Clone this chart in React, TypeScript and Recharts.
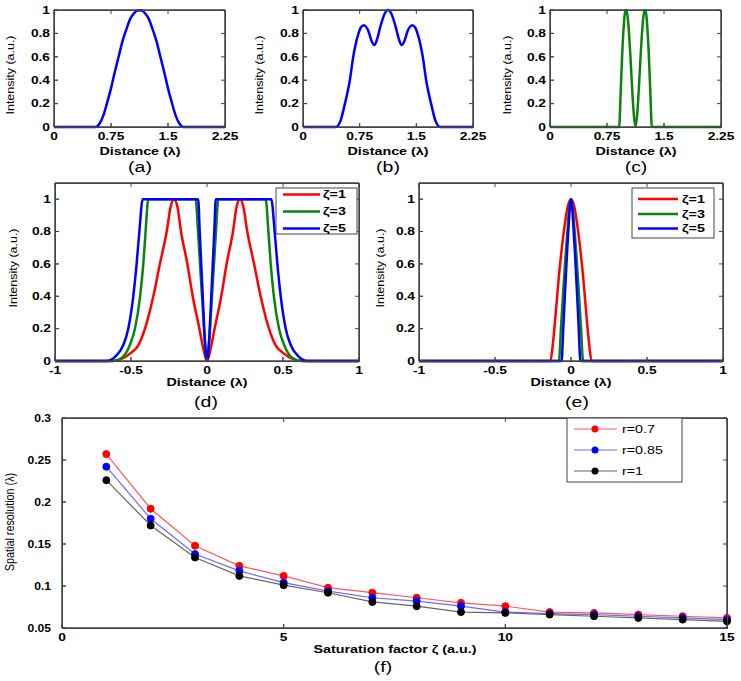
import React from 'react';
import { LineChart, Line, XAxis, YAxis, ReferenceArea } from 'recharts';

const FONT = '"Liberation Sans", Arial, Helvetica, sans-serif';
const AXIS = '#444';

// (a) intensity profile, single peak
const distA = [0, 0.55, 0.6, 0.65, 0.7, 0.75, 0.8, 0.85, 0.9, 0.95, 1.0, 1.05, 1.1, 1.15, 1.2, 1.25, 1.3, 1.35, 1.4, 1.45, 1.5, 1.55, 1.6, 1.65, 1.7, 2.25];
const intenA = [0, 0, 0.03, 0.1, 0.21, 0.33, 0.47, 0.6, 0.73, 0.83, 0.92, 0.97, 0.995, 0.995, 0.97, 0.92, 0.83, 0.73, 0.6, 0.47, 0.33, 0.21, 0.1, 0.03, 0, 0];

// (b) three-lobed profile
const distB = [0, 0.435, 0.495, 0.555, 0.62, 0.665, 0.735, 0.765, 0.805, 0.865, 0.905, 0.945, 0.985, 1.025, 1.075, 1.125, 1.175, 1.225, 1.265, 1.305, 1.345, 1.385, 1.445, 1.485, 1.515, 1.585, 1.63, 1.695, 1.755, 1.815, 2.25];
const intenB = [0, 0, 0.05, 0.2, 0.4, 0.6, 0.8, 0.85, 0.87, 0.82, 0.74, 0.7, 0.76, 0.86, 0.96, 1.0, 0.96, 0.86, 0.76, 0.7, 0.74, 0.82, 0.87, 0.85, 0.8, 0.6, 0.4, 0.2, 0.05, 0, 0];

// (c) two narrow peaks
const distC = [0, 0.91, 0.93, 0.95, 0.97, 0.99, 1.0, 1.02, 1.04, 1.06, 1.08, 1.1, 1.125, 1.15, 1.17, 1.19, 1.21, 1.23, 1.25, 1.26, 1.28, 1.3, 1.32, 1.34, 2.25];
const intenC = [0, 0, 0.3, 0.62, 0.86, 0.99, 1.0, 0.95, 0.8, 0.58, 0.34, 0.13, 0, 0.13, 0.34, 0.58, 0.8, 0.95, 1.0, 0.99, 0.86, 0.62, 0.3, 0, 0];

// (d) doughnut profiles for zeta = 1, 3, 5
const distD1 = [-1, -0.62, -0.57, -0.5, -0.45, -0.408, -0.353, -0.31, -0.265, -0.24, -0.217, -0.194, -0.171, -0.129, -0.094, -0.05, -0.025, 0, 0.025, 0.05, 0.094, 0.129, 0.171, 0.194, 0.217, 0.24, 0.265, 0.31, 0.353, 0.408, 0.45, 0.5, 0.57, 0.62, 1];
const intenD1 = [0, 0, 0.01, 0.05, 0.1, 0.2, 0.4, 0.6, 0.8, 0.95, 1.0, 0.95, 0.8, 0.6, 0.4, 0.2, 0.08, 0, 0.08, 0.2, 0.4, 0.6, 0.8, 0.95, 1.0, 0.95, 0.8, 0.6, 0.4, 0.2, 0.1, 0.05, 0.01, 0, 0];
const distD3 = [-1, -0.62, -0.56, -0.507, -0.474, -0.44, -0.419, -0.404, -0.386, -0.075, -0.059, -0.046, -0.033, -0.02, -0.008, 0, 0.008, 0.02, 0.033, 0.046, 0.059, 0.075, 0.386, 0.404, 0.419, 0.44, 0.474, 0.507, 0.56, 0.62, 1];
const intenD3 = [0, 0, 0.02, 0.1, 0.2, 0.4, 0.6, 0.8, 1.0, 1.0, 0.8, 0.6, 0.4, 0.2, 0.05, 0, 0.05, 0.2, 0.4, 0.6, 0.8, 1.0, 1.0, 0.8, 0.6, 0.4, 0.2, 0.1, 0.02, 0, 0];
const distD5 = [-1, -0.66, -0.6, -0.55, -0.518, -0.485, -0.463, -0.445, -0.423, -0.058, -0.048, -0.038, -0.028, -0.018, -0.008, 0, 0.008, 0.018, 0.028, 0.038, 0.048, 0.058, 0.423, 0.445, 0.463, 0.485, 0.518, 0.55, 0.6, 0.66, 1];
const intenD5 = [0, 0, 0.03, 0.1, 0.2, 0.4, 0.6, 0.8, 1.0, 1.0, 0.8, 0.6, 0.4, 0.2, 0.05, 0, 0.05, 0.2, 0.4, 0.6, 0.8, 1.0, 1.0, 0.8, 0.6, 0.4, 0.2, 0.1, 0.03, 0, 0];

// (e) central peaks for zeta = 1, 3, 5
const distE1 = [-1, -0.135, -0.12, -0.1, -0.08, -0.06, -0.04, -0.02, 0, 0.02, 0.04, 0.06, 0.08, 0.1, 0.12, 0.135, 1];
const intenE1 = [0, 0, 0.1, 0.3, 0.52, 0.7, 0.85, 0.96, 1, 0.96, 0.85, 0.7, 0.52, 0.3, 0.1, 0, 0];
const distE3 = [-1, -0.08, -0.065, -0.05, -0.035, -0.02, -0.01, 0, 0.01, 0.02, 0.035, 0.05, 0.065, 0.08, 1];
const intenE3 = [0, 0, 0.22, 0.45, 0.66, 0.85, 0.96, 1, 0.96, 0.85, 0.66, 0.45, 0.22, 0, 0];
const distE5 = [-1, -0.062, -0.05, -0.038, -0.026, -0.014, -0.006, 0, 0.006, 0.014, 0.026, 0.038, 0.05, 0.062, 1];
const intenE5 = [0, 0, 0.22, 0.45, 0.67, 0.86, 0.97, 1, 0.97, 0.86, 0.67, 0.45, 0.22, 0, 0];

// (f) spatial resolution vs saturation factor
const zeta = [1, 2, 3, 4, 5, 6, 7, 8, 9, 10, 11, 12, 13, 14, 15];
const res07 = [0.257, 0.192, 0.148, 0.124, 0.112, 0.098, 0.092, 0.086, 0.08, 0.076, 0.069, 0.068, 0.066, 0.064, 0.062];
const res085 = [0.242, 0.18, 0.138, 0.118, 0.104, 0.094, 0.086, 0.082, 0.076, 0.069, 0.067, 0.066, 0.064, 0.062, 0.06];
const res1 = [0.226, 0.172, 0.134, 0.112, 0.101, 0.092, 0.081, 0.076, 0.069, 0.068, 0.066, 0.064, 0.062, 0.06, 0.058];

const distTicks = [0, 0.75, 1.5, 2.25];
const symTicks = [-1, -0.5, 0, 0.5, 1];
const intenTicks = [0, 0.2, 0.4, 0.6, 0.8, 1];
const zetaTicks = [0, 5, 10, 15];
const resTicks = [0.05, 0.1, 0.15, 0.2, 0.25, 0.3];

const pts = (xs: number[], ys: number[]) => xs.map((x, i) => ({ x, y: ys[i] }));

const makeTick = (anchor: 'middle' | 'end', sx: number) => (p: any) => (
  <text transform={`translate(${p.x},${p.y}) scale(${sx},1)`} textAnchor={anchor} dy="0.35em"
        fontSize={11} fontWeight="bold" fontFamily={FONT} fill="#000">{p.payload.value}</text>
);

type Series = { data: { x: number; y: number }[]; color: string; width: number; dot?: string; type?: 'monotone' | 'linear' };
type Box = [number, number, number, number];

interface AxesSpec {
  box: Box;
  xDomain: [number, number];
  xTicks: number[];
  yDomain: [number, number];
  yTicks: number[];
}

interface PanelProps extends AxesSpec {
  series: Series[];
  yGap?: number;
  ySx?: number;
}

const Panel = ({ box, xDomain, xTicks, yDomain, yTicks, series, yGap = 4, ySx = 1.25 }: PanelProps) => {
  const [l, t, r, b] = box;
  const padL = 60, padT = 10, padR = 30, padB = 40;
  return (
    <div style={{ position: 'absolute', left: l - padL, top: t - padT }}>
      <LineChart width={r - l + padL + padR} height={b - t + padT + padB}
                 margin={{ top: padT - 1, right: padR - 1, left: 0, bottom: 0 }}>
        <XAxis dataKey="x" type="number" domain={xDomain} ticks={xTicks} interval={0}
               height={padB} tickSize={-4} tickMargin={13} tick={makeTick('middle', 1.25)} stroke={AXIS} />
        <XAxis xAxisId="top" orientation="top" dataKey="x" type="number" domain={xDomain} ticks={xTicks}
               interval={0} height={1} tickSize={-4} tick={false} stroke={AXIS} />
        <YAxis type="number" domain={yDomain} ticks={yTicks} interval={0}
               width={padL} tickSize={-4} tickMargin={4 + yGap} tick={makeTick('end', ySx)} stroke={AXIS} />
        <YAxis yAxisId="right" orientation="right" type="number" domain={yDomain} ticks={yTicks}
               interval={0} width={1} tickSize={-4} tick={false} stroke={AXIS} />
        <ReferenceArea x1={xDomain[0]} x2={xDomain[1]} y1={yDomain[0]} y2={yDomain[1]}
                       ifOverflow="visible" fill="none" stroke={AXIS} />
        {series.map((s, i) => (
          <Line key={i} data={s.data} dataKey="y" type={s.type || 'monotone'} stroke={s.color}
                strokeWidth={s.width} isAnimationActive={false}
                dot={s.dot ? { r: 3.5, fill: s.dot, stroke: s.dot, strokeWidth: 1 } : false} />
        ))}
      </LineChart>
    </div>
  );
};

// axes box with inward ticks on all four sides (MATLAB style frame)
const Frame = ({ box, xDomain, xTicks, yDomain, yTicks }: AxesSpec) => {
  const [l, t, r, b] = box;
  const sx = (v: number) => l + ((v - xDomain[0]) / (xDomain[1] - xDomain[0])) * (r - l);
  const sy = (v: number) => b - ((v - yDomain[0]) / (yDomain[1] - yDomain[0])) * (b - t);
  return (
    <g stroke={AXIS} strokeWidth={1} fill="none">
      <rect x={l + 0.5} y={t + 0.5} width={r - l} height={b - t} />
      {xTicks.map((v) => (
        <g key={`x${v}`}>
          <line x1={sx(v)} x2={sx(v)} y1={b} y2={b - 4} />
          <line x1={sx(v)} x2={sx(v)} y1={t} y2={t + 4} />
        </g>
      ))}
      {yTicks.map((v) => (
        <g key={`y${v}`}>
          <line x1={l} x2={l + 4} y1={sy(v)} y2={sy(v)} />
          <line x1={r} x2={r - 4} y1={sy(v)} y2={sy(v)} />
        </g>
      ))}
    </g>
  );
};

const RED = '#ff0000';
const GREEN = '#0b840b';
const BLUE = '#0000ff';

const Wide = ({ x, y, size = 11, bold = true, s = 1.3, children }: any) => (
  <text transform={`translate(${x},${y}) scale(${s},1)`} textAnchor="middle" dy="0.35em"
        fontSize={size} fontWeight={bold ? 'bold' : 'normal'} fontFamily={FONT} fill="#000">{children}</text>
);
const Vert = ({ x, y, size = 10, s = 1.25, children }: any) => (
  <text transform={`translate(${x},${y}) rotate(-90) scale(${s},1)`} textAnchor="middle" dy="0.35em"
        fontSize={size} fontFamily={FONT} fill="#000">{children}</text>
);

const ZetaLegend = ({ x, y, w, h, rows }: any) => (
  <g>
    <rect x={x} y={y} width={w} height={h} fill="#fff" stroke={AXIS} strokeWidth={1} />
    {rows.map((r: any, i: number) => (
      <g key={i}>
        <line x1={r.lx1} x2={r.lx2} y1={r.y} y2={r.y} stroke={r.color} strokeWidth={2.5} />
        <text transform={`translate(${r.tx},${r.y}) scale(1.3,1)`} dy="0.35em" fontSize={11}
              fontWeight="bold" fontFamily={FONT}>{r.label}</text>
      </g>
    ))}
  </g>
);

const axA: AxesSpec = { box: [54, 10, 225, 127], xDomain: [0, 2.25], xTicks: distTicks, yDomain: [0, 1], yTicks: intenTicks };
const axB: AxesSpec = { box: [303, 10, 473, 127], xDomain: [0, 2.25], xTicks: distTicks, yDomain: [0, 1], yTicks: intenTicks };
const axC: AxesSpec = { box: [550, 10, 721, 127], xDomain: [0, 2.25], xTicks: distTicks, yDomain: [0, 1], yTicks: intenTicks };
const axD: AxesSpec = { box: [55, 183, 359, 361], xDomain: [-1, 1], xTicks: symTicks, yDomain: [0, 1.1], yTicks: intenTicks };
const axE: AxesSpec = { box: [419, 183, 723, 361], xDomain: [-1, 1], xTicks: symTicks, yDomain: [0, 1.1], yTicks: intenTicks };
const axF: AxesSpec = { box: [62, 418, 727, 628], xDomain: [0, 15], xTicks: zetaTicks, yDomain: [0.05, 0.3], yTicks: resTicks };

export default function App() {
  return (
    <div style={{ position: 'absolute', left: 0, top: 0, width: 741, height: 681, background: '#fff' }}>
      <Panel {...axA} series={[{ data: pts(distA, intenA), color: BLUE, width: 2.5 }]} />
      <Panel {...axB} series={[{ data: pts(distB, intenB), color: BLUE, width: 2.5 }]} />
      <Panel {...axC} series={[{ data: pts(distC, intenC), color: GREEN, width: 2.5 }]} />
      <Panel {...axD} series={[
        { data: pts(distD1, intenD1), color: RED, width: 2.5 },
        { data: pts(distD3, intenD3), color: GREEN, width: 2.5 },
        { data: pts(distD5, intenD5), color: BLUE, width: 2.5 },
      ]} />
      <Panel {...axE} series={[
        { data: pts(distE1, intenE1), color: RED, width: 2.5 },
        { data: pts(distE3, intenE3), color: GREEN, width: 2.5 },
        { data: pts(distE5, intenE5), color: BLUE, width: 2.5 },
      ]} />
      <Panel {...axF} yGap={11} ySx={1.1} series={[
        { data: pts(zeta, res07), color: '#ff5a5a', width: 1.2, dot: RED, type: 'linear' },
        { data: pts(zeta, res085), color: '#6a6aff', width: 1.2, dot: BLUE, type: 'linear' },
        { data: pts(zeta, res1), color: '#666', width: 1.2, dot: '#000', type: 'linear' },
      ]} />

      <svg width={741} height={681} style={{ position: 'absolute', left: 0, top: 0, pointerEvents: 'none' }}>
        {[axA, axB, axC, axD, axE, axF].map((ax, i) => <Frame key={i} {...ax} />)}

        <Vert x={10} y={75}>Intensity (a.u.)</Vert>
        <Vert x={259} y={75}>Intensity (a.u.)</Vert>
        <Vert x={507} y={75}>Intensity (a.u.)</Vert>
        <Vert x={13} y={268}>Intensity (a.u.)</Vert>
        <Vert x={380} y={268}>Intensity (a.u.)</Vert>
        <Vert x={10} y={522} size={12} s={0.9}>Spatial resolution (λ)</Vert>

        <Wide x={140} y={151}>Distance (λ)</Wide>
        <Wide x={388} y={151}>Distance (λ)</Wide>
        <Wide x={636} y={151}>Distance (λ)</Wide>
        <Wide x={207} y={382}>Distance (λ)</Wide>
        <Wide x={571} y={382}>Distance (λ)</Wide>
        <Wide x={395} y={649}>Saturation factor ζ  (a.u.)</Wide>

        <Wide x={140} y={167} size={15} bold={false} s={1.3}>(a)</Wide>
        <Wide x={388} y={167} size={15} bold={false} s={1.3}>(b)</Wide>
        <Wide x={636} y={167} size={15} bold={false} s={1.3}>(c)</Wide>
        <Wide x={206} y={402} size={15} bold={false} s={1.3}>(d)</Wide>
        <Wide x={577} y={402} size={15} bold={false} s={1.3}>(e)</Wide>
        <Wide x={383} y={667} size={15} bold={false} s={1.3}>(f)</Wide>

        <ZetaLegend x={276} y={188} w={81} h={46} rows={[
          { label: 'ζ=1', color: RED, y: 194.5, lx1: 283, lx2: 320, tx: 323 },
          { label: 'ζ=3', color: GREEN, y: 211.5, lx1: 283, lx2: 320, tx: 323 },
          { label: 'ζ=5', color: BLUE, y: 228.5, lx1: 283, lx2: 320, tx: 323 },
        ]} />
        <ZetaLegend x={632} y={188} w={82} h={50} rows={[
          { label: 'ζ=1', color: RED, y: 199, lx1: 638, lx2: 678, tx: 682 },
          { label: 'ζ=3', color: GREEN, y: 214, lx1: 638, lx2: 678, tx: 682 },
          { label: 'ζ=5', color: BLUE, y: 228.5, lx1: 638, lx2: 678, tx: 682 },
        ]} />

        <rect x={567} y={418} width={115} height={64} fill="#fff" stroke={AXIS} strokeWidth={1} />
        {[
          { label: 'r=0.7', line: '#ff5a5a', dot: RED, y: 429 },
          { label: 'r=0.85', line: '#6a6aff', dot: BLUE, y: 450 },
          { label: 'r=1', line: '#666', dot: '#000', y: 471 },
        ].map((r) => (
          <g key={r.label}>
            <line x1={574} x2={617} y1={r.y} y2={r.y} stroke={r.line} strokeWidth={1.2} />
            <circle cx={595} cy={r.y} r={3.5} fill={r.dot} />
            <text transform={`translate(622,${r.y}) scale(1.3,1)`} dy="0.35em" fontSize={11} fontFamily={FONT}>{r.label}</text>
          </g>
        ))}
      </svg>
    </div>
  );
}
